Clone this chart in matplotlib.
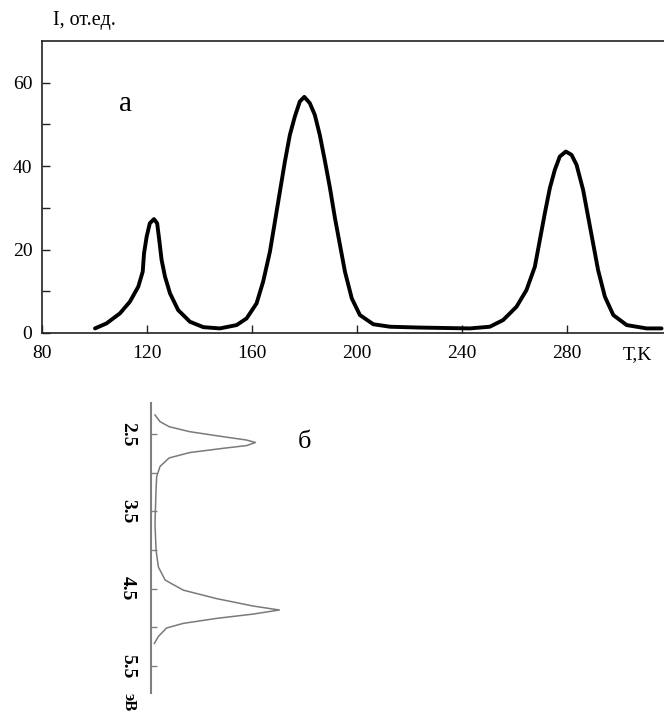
import numpy as np
import matplotlib.pyplot as plt

plt.rcParams['font.family'] = ['Liberation Serif', 'DejaVu Serif']

# panel a: thermoluminescence curve
temp_k = [100.2, 104.6, 109.7, 113.5, 116.7, 118.4, 118.9, 119.9, 121.1, 122.7,
          123.9, 124.7, 125.6, 126.9, 128.8, 131.9, 136.4, 141.5, 147.8, 154.2,
          158.0, 161.8, 164.3, 166.9, 168.8, 170.7, 172.6, 174.5, 176.4, 178.3,
          180.0, 182.1, 184.0, 185.9, 187.9, 189.8, 191.7, 193.6, 195.5, 198.1,
          201.2, 206.3, 212.7, 224.2, 243.1, 250.7, 255.8, 260.9, 264.7, 267.9,
          269.8, 271.7, 273.6, 275.5, 277.4, 279.7, 281.9, 283.8, 286.3, 288.2,
          290.1, 292.0, 294.6, 297.8, 302.9, 310.5, 316.2]
intensity = [1.1, 2.3, 4.7, 7.5, 11.1, 14.7, 19.1, 23.1, 26.3, 27.3,
             26.3, 22.3, 17.5, 13.5, 9.5, 5.5, 2.7, 1.4, 1.1, 1.9,
             3.5, 7.1, 12.3, 19.5, 26.7, 33.9, 41.1, 47.5, 51.9, 55.5,
             56.6, 55.1, 52.3, 47.5, 41.1, 34.7, 27.5, 21.1, 14.7, 8.3,
             4.3, 2.1, 1.5, 1.3, 1.1, 1.5, 3.1, 6.3, 10.3, 15.9,
             22.3, 28.7, 34.7, 39.1, 42.3, 43.5, 42.7, 40.3, 34.3, 27.9,
             21.5, 15.1, 8.7, 4.3, 1.9, 1.1, 1.1]
x_ticks = [80, 120, 160, 200, 240, 280]
y_ticks = [0, 20, 40, 60]
y_minor = [10, 30, 50]

# panel b: spectrum, energy on the vertical axis
energy_ev = [2.254, 2.34, 2.405, 2.47, 2.535, 2.578, 2.61, 2.65, 2.685, 2.74,
             2.81, 2.92, 3.05, 3.22, 3.66, 4.0, 4.22, 4.39, 4.52, 4.63,
             4.725, 4.777, 4.83, 4.885, 4.95, 5.01, 5.12, 5.21]
spec_int = [0.031, 0.07, 0.14, 0.30, 0.56, 0.74, 0.81, 0.74, 0.56, 0.30,
            0.14, 0.07, 0.044, 0.039, 0.031, 0.039, 0.057, 0.11, 0.25, 0.51,
            0.79, 0.995, 0.79, 0.51, 0.25, 0.12, 0.057, 0.026]
e_ticks = [2.5, 3.0, 3.5, 4.0, 4.5, 5.0, 5.5]
e_labels = ['2.5', '', '3.5', '', '4.5', '', '5.5']

W, H = 664, 715
fig = plt.figure(figsize=(W / 100, H / 100), dpi=100)

# --- top panel
ax = fig.add_axes([42 / W, (H - 333) / H, 622 / W, 292 / H])
ax.plot(temp_k, intensity, color='black', lw=2.8, solid_joinstyle='round',
        solid_capstyle='round')
ax.set_xlim(80, 80 + 622 / 2.623)
ax.set_ylim(0, 70)
ax.spines['right'].set_visible(False)
for s in ['left', 'top', 'bottom']:
    ax.spines[s].set_linewidth(1.2)
    ax.spines[s].set_color('#222222')
ax.set_xticks(x_ticks)
ax.set_yticks(y_ticks)
ax.set_yticks(y_minor, minor=True)
ax.tick_params(axis='both', which='both', direction='in', length=6, width=1.0,
               labelsize=14, pad=7, color='#222222')
ax.tick_params(axis='x', which='major', pad=9)
ax.text(11 / 622, 1.055, 'I, от.ед.', transform=ax.transAxes, fontsize=14.5,
        ha='left', va='baseline')
ax.text(307, -3.2, 'T,K', fontsize=14, ha='center', va='top')
ax.text(112, 55, 'а', fontsize=21, ha='center', va='center')

# --- bottom panel (rotated spectrum)
ax2 = fig.add_axes([151 / W, (H - 693) / H, 189 / W, 290 / H])
ax2.plot(spec_int, energy_ev, color='#7a7a7a', lw=1.1)
ax2.set_xlim(0, 189 / 129)
ax2.set_ylim(2.5 + (693 - 434) / 77.3, 2.5 - (434 - 403) / 77.3)
for s in ['right', 'top', 'bottom']:
    ax2.spines[s].set_visible(False)
ax2.spines['left'].set_color('#808080')
ax2.spines['left'].set_linewidth(1.5)
ax2.set_xticks([])
ax2.set_yticks(e_ticks)
ax2.set_yticklabels(e_labels, rotation=-90, va='center', ha='center',
                    fontweight='bold', fontsize=14)
ax2.tick_params(axis='y', direction='in', length=4, width=1.0,
                color='#808080', pad=17)
ax2.text(-22 / 189, -9 / 290, 'эВ', transform=ax2.transAxes, rotation=-90,
         fontsize=12, fontweight='bold', ha='center', va='center')
ax2.text(1.19, 2.6, 'б', fontsize=19, ha='center', va='center')

fig.savefig('out.png', dpi=100, facecolor='white')
